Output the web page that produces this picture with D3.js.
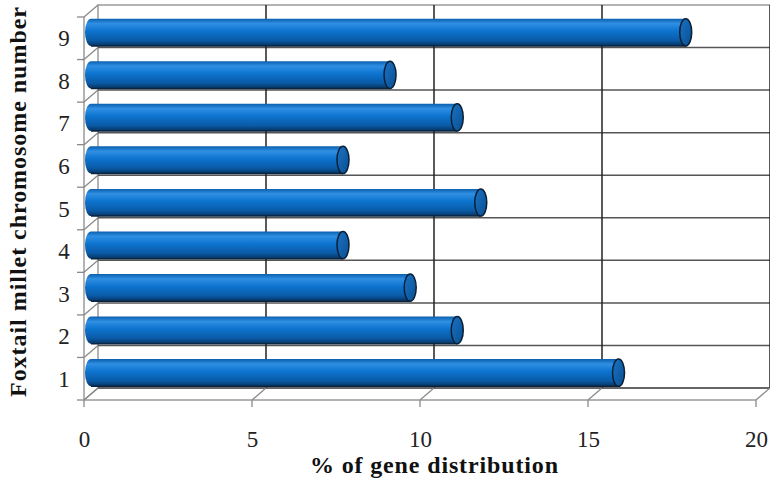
<!DOCTYPE html>
<html>
<head>
<meta charset="utf-8">
<script src="https://cdn.jsdelivr.net/npm/d3@7"></script>
<style>
  html, body { margin: 0; padding: 0; background: #fff; }
  svg text { font-family: 'Liberation Serif', 'Times New Roman', serif; }
</style>
</head>
<body>
<div id="chart"></div>
<script>
"use strict";

// chromosome numbers (bottom to top) and % of genes on each
var categories = ['1', '2', '3', '4', '5', '6', '7', '8', '9'];
var values = [15.7, 10.9, 9.5, 7.5, 11.6, 7.5, 10.9, 8.9, 17.7];
var xTicks = [0, 5, 10, 15, 20];
var xTitle = '% of gene distribution';
var yTitle = 'Foxtail millet chromosome number';

var WIDTH = 770, HEIGHT = 481;
// 3d depth offset of the back wall
var DX = 14, DY = -12;
var PLOT_TOP = 17, PLOT_BOTTOM = 400;

var svg = d3.select('#chart').append('svg')
  .attr('width', WIDTH).attr('height', HEIGHT)
  .style('display', 'block');

var x = d3.scaleLinear().domain([0, 20]).range([84, 756]);
var y = d3.scaleBand().domain(categories).range([PLOT_BOTTOM, PLOT_TOP]);

var boundaries = d3.range(categories.length + 1).map(function (i) {
  return PLOT_BOTTOM - i * y.step();
});

// gradients for the cylinders
var defs = svg.append('defs');
var grad = defs.append('linearGradient').attr('id', 'cyl')
  .attr('x1', 0).attr('y1', 0).attr('x2', 0).attr('y2', 1);
grad.append('stop').attr('offset', '0%').attr('stop-color', '#0b5fae');
grad.append('stop').attr('offset', '18%').attr('stop-color', '#2f8fe3');
grad.append('stop').attr('offset', '45%').attr('stop-color', '#0d74cf');
grad.append('stop').attr('offset', '80%').attr('stop-color', '#0a5aa6');
grad.append('stop').attr('offset', '100%').attr('stop-color', '#06335f');

var capGrad = defs.append('linearGradient').attr('id', 'cap')
  .attr('x1', 0).attr('y1', 0).attr('x2', 1).attr('y2', 1);
capGrad.append('stop').attr('offset', '0%').attr('stop-color', '#1a72c4');
capGrad.append('stop').attr('offset', '100%').attr('stop-color', '#0a4f92');

var frame = svg.append('g').attr('fill', 'none');

// back wall outline
frame.append('path')
  .attr('d', 'M' + (x(0) + DX) + ',' + (PLOT_BOTTOM + DY) + 'V' + (PLOT_TOP + DY) + 'H' + (x(20) + DX))
  .attr('stroke', '#9a9a9a').attr('stroke-width', 1.5);

// back wall horizontal gridlines
frame.selectAll('.hgrid').data(boundaries.slice(1, -1)).enter().append('line')
  .attr('x1', x(0) + DX).attr('x2', x(20) + DX)
  .attr('y1', function (d) { return d + DY; }).attr('y2', function (d) { return d + DY; })
  .attr('stroke', '#555').attr('stroke-width', 1.5);

// back wall vertical gridlines
frame.selectAll('.vgrid').data(xTicks.slice(1)).enter().append('line')
  .attr('x1', function (d) { return x(d) + DX; }).attr('x2', function (d) { return x(d) + DX; })
  .attr('y1', PLOT_TOP + DY).attr('y2', PLOT_BOTTOM + DY)
  .attr('stroke', '#222').attr('stroke-width', 1.5);

// floor back edge
frame.append('line')
  .attr('x1', x(0) + DX).attr('x2', x(20) + DX)
  .attr('y1', PLOT_BOTTOM + DY).attr('y2', PLOT_BOTTOM + DY)
  .attr('stroke', '#333').attr('stroke-width', 1.5);

// side wall: front edge + diagonals
frame.append('line')
  .attr('x1', x(0)).attr('x2', x(0)).attr('y1', PLOT_TOP).attr('y2', PLOT_BOTTOM)
  .attr('stroke', '#9a9a9a').attr('stroke-width', 1.5);
frame.selectAll('.sdiag').data(boundaries).enter().append('line')
  .attr('x1', x(0)).attr('y1', function (d) { return d; })
  .attr('x2', x(0) + DX).attr('y2', function (d) { return d + DY; })
  .attr('stroke', '#8a8a8a').attr('stroke-width', 1.3);
frame.selectAll('.ytick').data(boundaries).enter().append('line')
  .attr('x1', x(0) - 7).attr('x2', x(0))
  .attr('y1', function (d) { return d; }).attr('y2', function (d) { return d; })
  .attr('stroke', '#8a8a8a').attr('stroke-width', 1.3);

// floor: front edge + diagonals + ticks
frame.append('line')
  .attr('x1', x(0)).attr('x2', x(20)).attr('y1', PLOT_BOTTOM).attr('y2', PLOT_BOTTOM)
  .attr('stroke', '#9a9a9a').attr('stroke-width', 1.5);
frame.selectAll('.fdiag').data(xTicks).enter().append('line')
  .attr('x1', function (d) { return x(d); }).attr('y1', PLOT_BOTTOM)
  .attr('x2', function (d) { return x(d) + DX; }).attr('y2', PLOT_BOTTOM + DY)
  .attr('stroke', '#8a8a8a').attr('stroke-width', 1.3);
frame.selectAll('.xtick').data(xTicks).enter().append('line')
  .attr('x1', function (d) { return x(d); }).attr('x2', function (d) { return x(d); })
  .attr('y1', PLOT_BOTTOM).attr('y2', PLOT_BOTTOM + 7)
  .attr('stroke', '#8a8a8a').attr('stroke-width', 1.3);

// cylinders, placed at mid depth
var R = y.bandwidth() * 0.32; // half height of cylinder
var RX = 6;
var bars = svg.append('g').selectAll('g')
  .data(values.map(function (v, i) { return { cat: categories[i], value: v }; }))
  .enter().append('g');

function cy(d) { return y(d.cat) + y.bandwidth() / 2 + DY / 2; }
function x0() { return x(0) + DX / 2; }
function x1(d) { return x(d.value) + DX / 2; }

bars.append('path')
  .attr('d', function (d) {
    var c = cy(d);
    return 'M' + x0() + ',' + (c - R) +
      'H' + x1(d) + 'V' + (c + R) + 'H' + x0() +
      'A' + RX + ',' + R + ' 0 0 1 ' + x0() + ',' + (c - R) + 'Z';
  })
  .attr('fill', 'url(#cyl)');

bars.append('line')
  .attr('x1', x0()).attr('x2', function (d) { return x1(d); })
  .attr('y1', function (d) { return cy(d) + R; }).attr('y2', function (d) { return cy(d) + R; })
  .attr('stroke', '#0a2540').attr('stroke-width', 1.5);

bars.append('ellipse')
  .attr('cx', function (d) { return x1(d); })
  .attr('cy', function (d) { return cy(d); })
  .attr('rx', RX).attr('ry', R)
  .attr('fill', 'url(#cap)')
  .attr('stroke', '#0a2035').attr('stroke-width', 1.5);

// axis labels
var yAxis = svg.append('g').attr('transform', 'translate(' + (x(0) - 9) + ',0)')
  .call(d3.axisLeft(y).tickSize(0).tickPadding(0));
yAxis.select('.domain').remove();
yAxis.selectAll('text')
  .attr('x', -11).attr('dy', '0.35em')
  .attr('text-anchor', 'middle')
  .attr('font-family', null)
  .attr('font-size', 23)
  .attr('fill', '#222');

var xAxis = svg.append('g').attr('transform', 'translate(0,' + PLOT_BOTTOM + ')')
  .call(d3.axisBottom(x).tickValues(xTicks).tickSize(0).tickFormat(d3.format('d')));
xAxis.select('.domain').remove();
xAxis.selectAll('text')
  .attr('y', 47).attr('dy', 0)
  .attr('font-family', null)
  .attr('font-size', 23)
  .attr('fill', '#222');

// titles
svg.append('text')
  .attr('x', 434).attr('y', 473)
  .attr('text-anchor', 'middle')
  .attr('font-size', 24).attr('font-weight', 'bold').attr('fill', '#111')
  .attr('textLength', 248).attr('lengthAdjust', 'spacing')
  .text(xTitle);

svg.append('text')
  .attr('transform', 'translate(26,202) rotate(-90)')
  .attr('text-anchor', 'middle')
  .attr('font-size', 24).attr('font-weight', 'bold').attr('fill', '#111')
  .attr('textLength', 390).attr('lengthAdjust', 'spacing')
  .text(yTitle);
</script>
</body>
</html>
